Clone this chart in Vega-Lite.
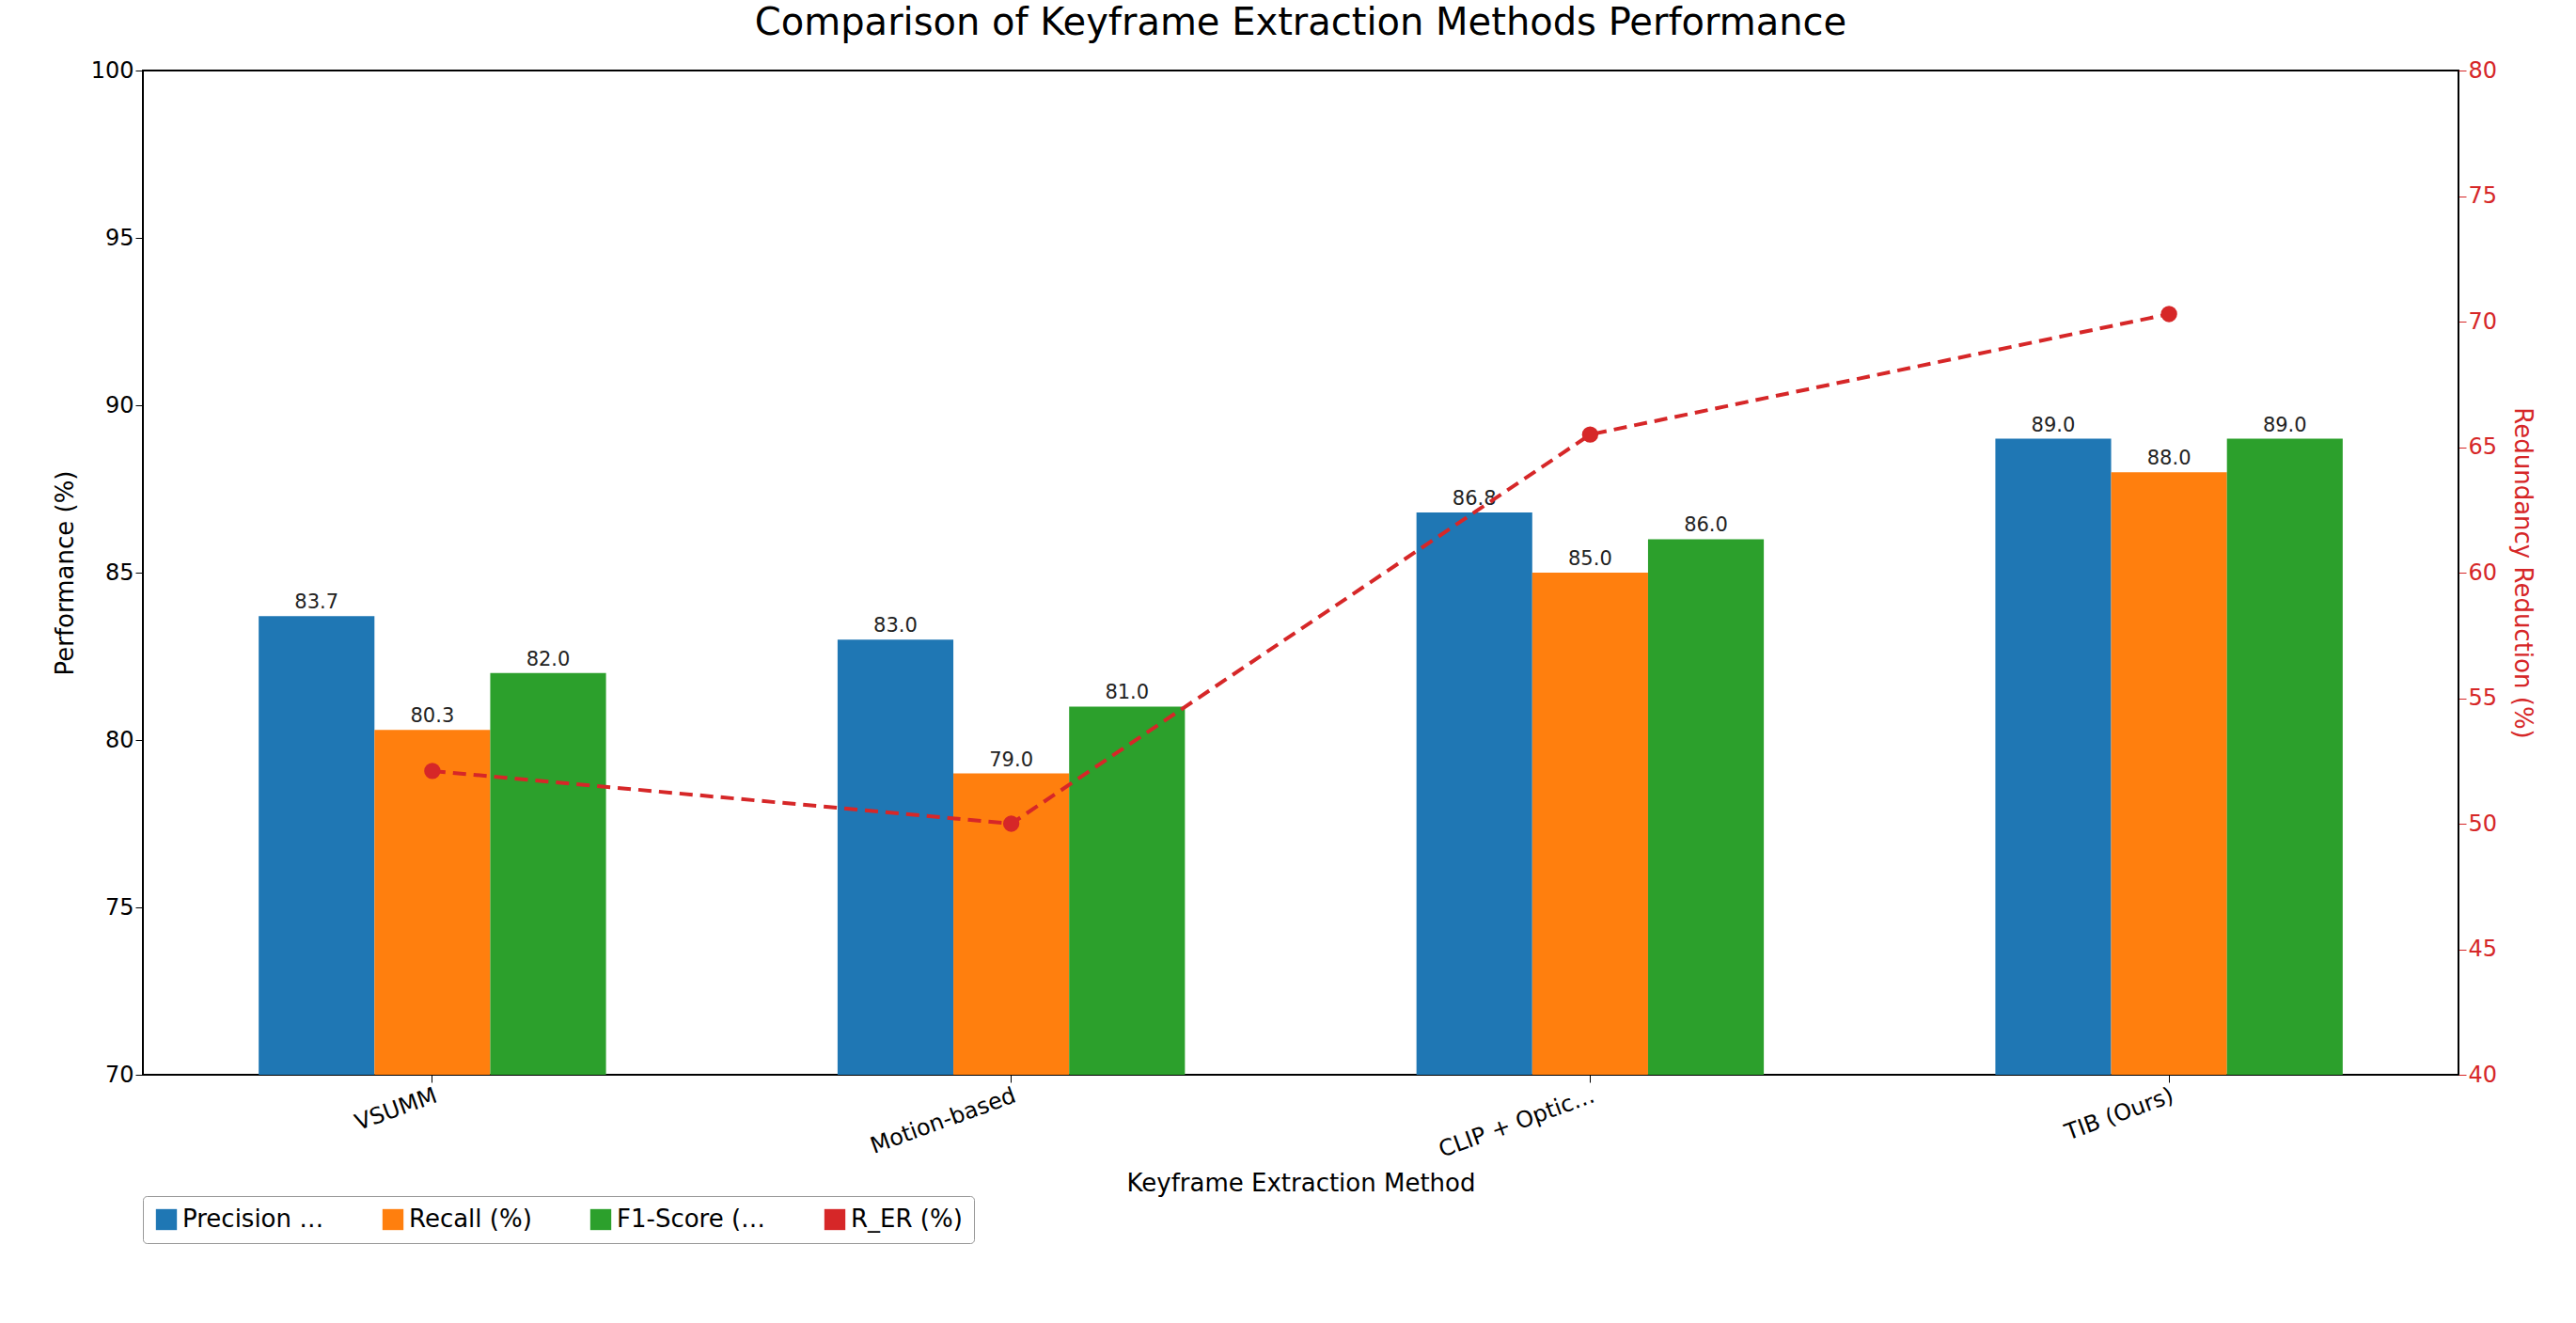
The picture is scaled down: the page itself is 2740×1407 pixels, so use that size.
{
  "$schema": "https://vega.github.io/schema/vega-lite/v6.json",
  "autosize": {"type": "none"},
  "padding": {"left": 152, "top": 75, "right": 125, "bottom": 264},
  "width": 2463,
  "height": 1068,
  "title": {"text": "Comparison of Keyframe Extraction Methods Performance", "fontSize": 40, "fontWeight": "normal", "font": "DejaVu Sans", "offset": 18},
  "datasets": {
    "bars": [
      {"method": "VSUMM", "metric": "Precision (%)", "value": 83.7},
      {"method": "VSUMM", "metric": "Recall (%)", "value": 80.3},
      {"method": "VSUMM", "metric": "F1-Score (%)", "value": 82.0},
      {"method": "Motion-based", "metric": "Precision (%)", "value": 83.0},
      {"method": "Motion-based", "metric": "Recall (%)", "value": 79.0},
      {"method": "Motion-based", "metric": "F1-Score (%)", "value": 81.0},
      {"method": "CLIP + Optical flow", "metric": "Precision (%)", "value": 86.8},
      {"method": "CLIP + Optical flow", "metric": "Recall (%)", "value": 85.0},
      {"method": "CLIP + Optical flow", "metric": "F1-Score (%)", "value": 86.0},
      {"method": "TIB (Ours)", "metric": "Precision (%)", "value": 89.0},
      {"method": "TIB (Ours)", "metric": "Recall (%)", "value": 88.0},
      {"method": "TIB (Ours)", "metric": "F1-Score (%)", "value": 89.0}
    ],
    "rer": [
      {"method": "VSUMM", "rer": 52.1},
      {"method": "Motion-based", "rer": 50.0},
      {"method": "CLIP + Optical flow", "rer": 65.5},
      {"method": "TIB (Ours)", "rer": 70.3}
    ]
  },
  "config": {
    "font": "DejaVu Sans",
    "view": {"stroke": "black", "strokeWidth": 2},
    "axis": {"labelFontSize": 24, "titleFontSize": 26, "titleFontWeight": "normal", "grid": false, "domainColor": "black", "tickColor": "black", "labelColor": "black", "tickSize": 8}
  },
  "resolve": {"scale": {"y": "independent"}},
  "encoding": {
    "x": {"field": "method", "type": "nominal", "sort": null,
      "scale": {"paddingInner": 0.4, "paddingOuter": 0.2},
      "axis": {"title": "Keyframe Extraction Method", "labelAngle": -20, "labelAlign": "right", "labelBaseline": "top", "titlePadding": 10}}
  },
  "layer": [
    {
      "data": {"name": "bars"},
      "layer": [
        {
          "mark": {"type": "bar", "clip": true},
          "encoding": {
            "xOffset": {"field": "metric", "sort": ["Precision (%)", "Recall (%)", "F1-Score (%)"]},
            "y": {"field": "value", "type": "quantitative", "scale": {"domain": [70, 100]},
              "axis": {"title": "Performance (%)", "values": [70, 75, 80, 85, 90, 95, 100], "titlePadding": 14}},
            "color": {"field": "metric", "type": "nominal",
              "scale": {"domain": ["Precision (%)", "Recall (%)", "F1-Score (%)", "R_ER (%)"], "range": ["#1f77b4", "#ff7f0e", "#2ca02c", "#d62728"]},
              "legend": {"orient": "bottom", "direction": "horizontal", "title": null, "labelFontSize": 26, "symbolSize": 500, "symbolType": "square", "columnPadding": 60, "strokeColor": "#999", "padding": 12, "cornerRadius": 4, "fillColor": "white", "offset": 0}}
          }
        },
        {
          "mark": {"type": "text", "dy": -14, "fontSize": 21, "color": "#222"},
          "encoding": {
            "xOffset": {"field": "metric", "sort": ["Precision (%)", "Recall (%)", "F1-Score (%)"]},
            "y": {"field": "value", "type": "quantitative", "scale": {"domain": [70, 100]}},
            "text": {"field": "value", "type": "quantitative", "format": ".1f"}
          }
        }
      ]
    },
    {
      "data": {"name": "rer"},
      "mark": {"type": "line", "color": "#d62728", "strokeWidth": 4, "strokeDash": [14, 8], "point": {"filled": true, "size": 300, "color": "#d62728"}},
      "encoding": {
        "y": {"field": "rer", "type": "quantitative", "scale": {"domain": [40, 80]},
          "axis": {"orient": "right", "title": "Redundancy Reduction (%)", "titleColor": "#d62728", "labelColor": "#d62728", "tickColor": "#d62728", "values": [40, 45, 50, 55, 60, 65, 70, 75, 80], "titlePadding": 14}}
      }
    }
  ]
}
